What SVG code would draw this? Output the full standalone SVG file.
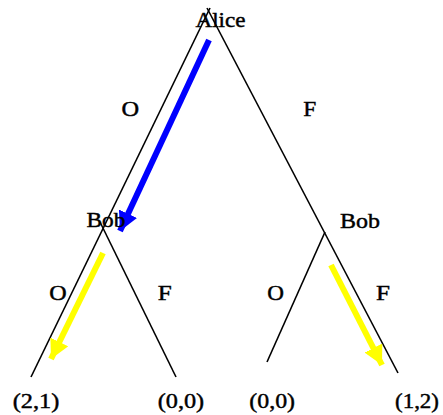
<svg xmlns="http://www.w3.org/2000/svg" width="443" height="415" viewBox="0 0 443 415">
<style>
  text { font-family: "Liberation Serif", "Times New Roman", serif; font-size: 22px; fill: #000; stroke: #000; stroke-width: 0.45; }
  .edge { stroke: #000; stroke-width: 1.6; fill: none; stroke-linecap: butt; }
  .blue { stroke: #0000ff; stroke-width: 6; fill: none; }
  .yellow { stroke: #ffff00; stroke-width: 6; fill: none; }
</style>
<defs>
  <marker id="headBlue" markerUnits="userSpaceOnUse" markerWidth="22" markerHeight="22" refX="19" refY="10" orient="auto">
    <path d="M0,0 L19,10 L0,20 Z" fill="#0000ff"/>
  </marker>
  <marker id="headYellow" markerUnits="userSpaceOnUse" markerWidth="22" markerHeight="22" refX="19" refY="10" orient="auto">
    <path d="M0,0 L19,10 L0,20 Z" fill="#ffff00"/>
  </marker>
</defs>
<rect width="443" height="415" fill="#fff"/>
<g id="connectors">
  <line class="edge" x1="210" y1="8" x2="31" y2="377"/>
  <line class="edge" x1="207" y1="8" x2="398" y2="373"/>
  <line class="edge" x1="100" y1="222" x2="176" y2="377"/>
  <line class="edge" x1="325" y1="232" x2="267" y2="362"/>
  <line class="blue" x1="209" y1="40" x2="120" y2="231" marker-end="url(#headBlue)"/>
  <line class="yellow" x1="103" y1="253" x2="51" y2="359" marker-end="url(#headYellow)"/>
  <line class="yellow" x1="331" y1="265" x2="382" y2="365" marker-end="url(#headYellow)"/>
  <text x="121.5" y="116" textLength="17.6" lengthAdjust="spacingAndGlyphs">O</text>
  <text x="303.3" y="116" textLength="13" lengthAdjust="spacingAndGlyphs">F</text>
  <text x="49.3" y="300" textLength="17.4" lengthAdjust="spacingAndGlyphs">O</text>
  <text x="157.7" y="300" textLength="14" lengthAdjust="spacingAndGlyphs">F</text>
  <text x="267.3" y="300" textLength="16.7" lengthAdjust="spacingAndGlyphs">O</text>
  <text x="376" y="300" textLength="14" lengthAdjust="spacingAndGlyphs">F</text>
</g>
<g id="alice"><text x="195.5" y="27" textLength="50" lengthAdjust="spacingAndGlyphs">Alice</text></g>
<g id="bob-left"><text x="86.5" y="227" textLength="39" lengthAdjust="spacingAndGlyphs">Bob</text></g>
<g id="bob-right"><text x="340" y="227.5" textLength="40" lengthAdjust="spacingAndGlyphs">Bob</text></g>
<g id="leaf-OO"><text x="12.7" y="408.3" textLength="46.6" lengthAdjust="spacingAndGlyphs">(2,1)</text></g>
<g id="leaf-OF"><text x="157.7" y="408.3" textLength="46.5" lengthAdjust="spacingAndGlyphs">(0,0)</text></g>
<g id="leaf-FO"><text x="249.3" y="408.3" textLength="45.7" lengthAdjust="spacingAndGlyphs">(0,0)</text></g>
<g id="leaf-FF"><text x="395" y="408.3" textLength="44" lengthAdjust="spacingAndGlyphs">(1,2)</text></g>
</svg>
